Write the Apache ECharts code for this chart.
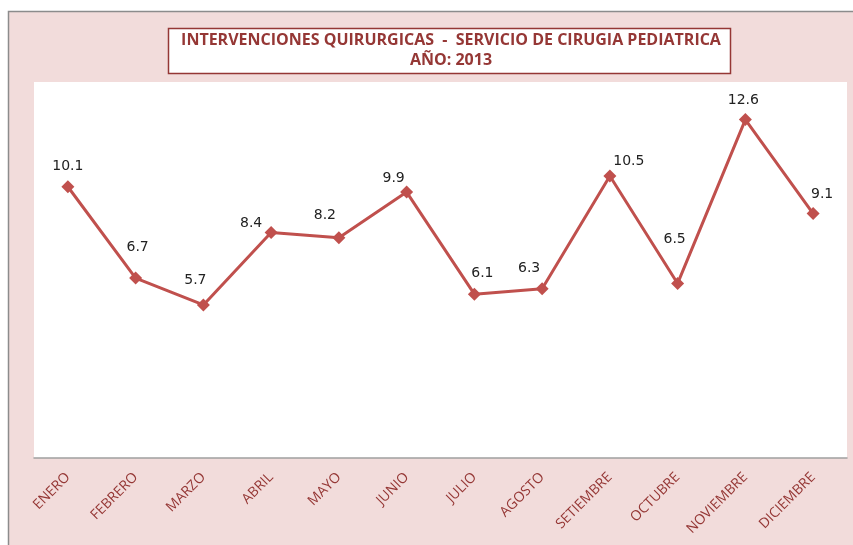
<!DOCTYPE html>
<html>
<head>
<meta charset="utf-8">
<script src="https://cdn.jsdelivr.net/npm/echarts@6/dist/echarts.min.js"></script>
<style>
  html, body { margin: 0; padding: 0; background: #fff; }
  #chart { width: 853px; height: 545px; }
</style>
</head>
<body>
<div id="chart"></div>
<script>
// meses y número de intervenciones
const meses = ['ENERO', 'FEBRERO', 'MARZO', 'ABRIL', 'MAYO', 'JUNIO', 'JULIO',
  'AGOSTO', 'SETIEMBRE', 'OCTUBRE', 'NOVIEMBRE', 'DICIEMBRE']
const valores = [10.1, 6.7, 5.7, 8.4, 8.2, 9.9, 6.1, 6.3, 10.5, 6.5, 12.6, 9.1]

// desplazamiento de cada etiqueta respecto a su punto (como las coloca Excel)
const desplazamientos = [[0, -20], [2, -31], [-8, -25], [-20, -9], [-14, -22], [-13, -14],
  [8, -21], [-13, -20], [19, -15], [-3, -44], [-2, -19], [9, -19]]

const rojo = '#C0504D'
const granate = '#953735'

const chart = echarts.init(document.getElementById('chart'), null, { renderer: 'canvas' })

chart.setOption({
  backgroundColor: '#fff',
  animation: false,
  graphic: [{
    type: 'rect',
    z: -10,
    shape: { x: 8.5, y: 11.5, width: 860, height: 560 },
    style: { fill: '#F2DCDB', stroke: '#8C8C8C', lineWidth: 1.5 }
  }, {
    type: 'rect',
    z: -5,
    shape: { x: 168.5, y: 28.5, width: 562, height: 45 },
    style: { fill: '#fff', stroke: granate, lineWidth: 1.5 }
  }],
  title: {
    text: 'INTERVENCIONES QUIRURGICAS  -  SERVICIO DE CIRUGIA PEDIATRICA\nAÑO: 2013',
    left: 451,
    textAlign: 'center',
    top: 30,
    padding: 0,
    textStyle: {
      fontFamily: 'Open Sans',
      fontWeight: 'bold',
      fontSize: 16,
      lineHeight: 20,
      color: granate
    }
  },
  grid: {
    left: 34,
    right: 6,
    top: 82,
    bottom: 87,
    show: true,
    backgroundColor: '#fff',
    borderWidth: 0
  },
  xAxis: {
    type: 'category',
    data: meses,
    boundaryGap: true,
    axisLine: { lineStyle: { color: '#A0A0A0', width: 1.5 } },
    axisTick: { show: false },
    axisLabel: {
      rotate: 45,
      margin: 17,
      interval: 0,
      fontFamily: 'Open Sans',
      fontSize: 14,
      color: granate
    }
  },
  yAxis: {
    type: 'value',
    min: 0,
    max: 14,
    interval: 2,
    axisLine: { show: false },
    axisTick: { show: false },
    axisLabel: { show: false },
    splitLine: { show: false }
  },
  series: [{
    type: 'line',
    data: valores.map((v, i) => ({ value: v, label: { offset: desplazamientos[i] } })),
    symbol: 'diamond',
    symbolSize: 13,
    lineStyle: { color: rojo, width: 3 },
    itemStyle: { color: rojo },
    label: {
      show: true,
      position: 'inside',
      fontFamily: 'DejaVu Sans',
      fontSize: 14,
      color: '#222'
    }
  }]
})
</script>
</body>
</html>
